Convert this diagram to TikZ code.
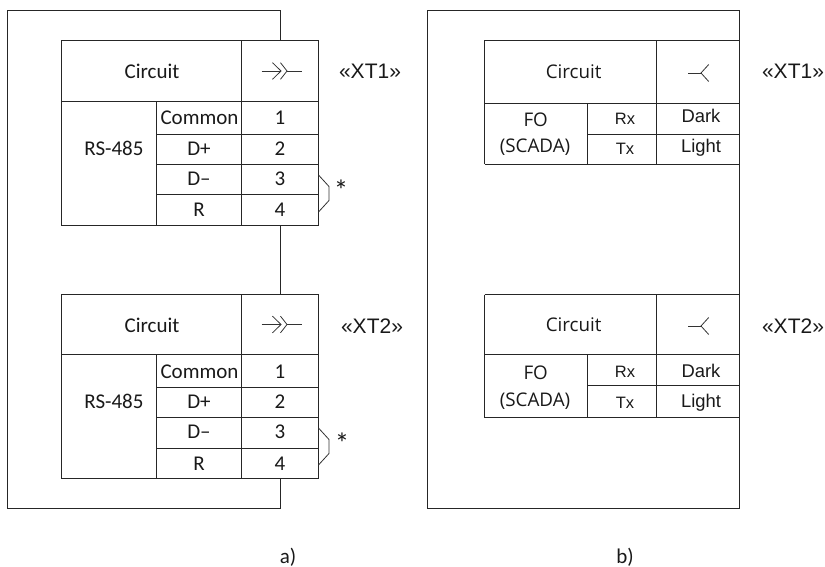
\documentclass[tikz,border=0pt]{standalone}
\usepackage{fontspec}
\setmainfont{Carlito}
\newfontfamily\sega{Open Sans}
\newfontfamily\arl{Liberation Sans}
\tikzset{
  ln/.style={draw=black!85,line width=1pt},
  thin ln/.style={draw=black!80,line width=0.8pt},
  tx/.style={anchor=base,inner sep=0pt,text=black!90,font=\fontsize{21}{22}\selectfont},
  st/.style={anchor=base,inner sep=0pt,text=black!90,font=\fontsize{29}{30}\selectfont},
  sb/.style={anchor=base,inner sep=0pt,text=black!90,font=\sega\fontsize{18.8}{20}\selectfont},
  ar/.style={anchor=base,inner sep=0pt,text=black!90,font=\arl\fontsize{18.4}{20}\selectfont},
  rt/.style={anchor=base,inner sep=0pt,text=black!90,font=\arl\fontsize{16.5}{20}\selectfont},
  lbl/.style={anchor=base,inner sep=0pt,text=black!90,font=\arl\fontsize{21}{24}\selectfont},
  plug/.pic={
    \draw[thin ln] (-19.5,0) -- (0,0);
    \draw[thin ln] (-8.5,8.3) -- (0,0) -- (-8.5,-8.3);
    \draw[thin ln] (-0.5,8.3) -- (6,0) -- (-0.5,-8.3);
    \draw[thin ln] (6,0) -- (20.5,0);
  },
  fork/.pic={
    \draw[thin ln] (-13,0) -- (0,0);
    \draw[thin ln] (7.7,8.5) -- (0,0) -- (7.7,-8.5);
  }
}
\begin{document}
\begin{tikzpicture}[x=1pt,y=-1pt]
\useasboundingbox (0,0) rectangle (825,567);
% --- panel a frame
\draw[ln] (280.5,40.5) -- (280.5,10.5) -- (7.5,10.5) -- (7.5,508.5) -- (280.5,508.5) -- (280.5,478.5);
\draw[ln] (280.5,225.5) -- (280.5,294.5);
% --- panel a tables
\foreach \t/\h/\ra/\rb/\rc/\rd in {40.5/101.5/134.5/164.5/194.5/225.5, 294.5/354.5/387.5/417.5/448.5/478.5}{
  \draw[ln] (61.5,\t) rectangle (318.5,\rd);
  \draw[ln] (241.5,\t) -- (241.5,\rd);
  \draw[ln] (156.5,\h) -- (156.5,\rd);
  \draw[ln] (61.5,\h) -- (318.5,\h);
  \draw[ln] (156.5,\ra) -- (318.5,\ra);
  \draw[ln] (156.5,\rb) -- (318.5,\rb);
  \draw[ln] (156.5,\rc) -- (318.5,\rc);
}
% --- jumpers
\coordinate (j1a) at (318.5,175); \coordinate (j1b) at (318.5,212);
\coordinate (j2a) at (318.5,428); \coordinate (j2b) at (318.5,465);
\draw[thin ln] (j1a) -- ++(10.5,11.5) -- ++(0,14) -- (j1b);
\draw[thin ln] (j2a) -- ++(10.5,11.5) -- ++(0,14) -- (j2b);
\pic at (281,71) {plug};
\pic at (281,324.5) {plug};
% --- panel a text
\node[tx] (ac1) at (152,78.5) {Circuit};
\node[tx] (ars1) at (114,155.5) {RS-485};
\node[tx] (acm1) at (199.5,124.5) {Common};
\node[tx] (adp1) at (199,155.5) {D+};
\node[tx] (adm1) at (199,185.5) {D–};
\node[tx] (ar1) at (199,216.5) {R};
\node[tx] (an11) at (280,124.5) {1};
\node[tx] (an12) at (280,155.5) {2};
\node[tx] (an13) at (280,185.5) {3};
\node[tx] (an14) at (280,216.5) {4};
\node[st] (ast1) at (341,200.5) {*};
\node[lbl] (axt1) at (370,79) {«XT1»};
\node[tx] (ac2) at (152,332) {Circuit};
\node[tx] (ars2) at (114,408.5) {RS-485};
\node[tx] (acm2) at (199.5,378.5) {Common};
\node[tx] (adp2) at (199,408.5) {D+};
\node[tx] (adm2) at (199,438.5) {D–};
\node[tx] (ar2) at (199,470.5) {R};
\node[tx] (an21) at (280,378.5) {1};
\node[tx] (an22) at (280,408.5) {2};
\node[tx] (an23) at (280,438.5) {3};
\node[tx] (an24) at (280,470.5) {4};
\node[st] (ast2) at (342,453.5) {*};
\node[lbl] (axt2) at (372,333) {«XT2»};
\node[tx] (capa) at (288,563) {a)};
% --- panel b
\draw[ln] (427.5,10.5) rectangle (739.5,508.5);
\foreach \t/\h/\m/\e in {40.5/103.5/134.5/164.5, 294.5/354.5/385.5/417.5}{
  \draw[ln] (484.5,\t) -- (739.5,\t);
  \draw[ln] (484.5,\h) -- (739.5,\h);
  \draw[ln] (484.5,\e) -- (739.5,\e);
  \draw[ln] (484.5,\t) -- (484.5,\e);
  \draw[ln] (656.5,\t) -- (656.5,\e);
  \draw[ln] (587.5,\h) -- (587.5,\e);
  \draw[ln] (587.5,\m) -- (739.5,\m);
}
\pic at (701,73) {fork};
\pic at (701,326) {fork};
\node[sb] (bc1) at (573.7,79) {Circuit};
\node[sb] (bfo1) at (535.7,127) {FO};
\node[sb] (bsc1) at (535,153) {(SCADA)};
\node[rt] (brx1) at (625,125) {Rx};
\node[rt] (btx1) at (625,155) {Tx};
\node[ar] (bd1) at (701,123) {Dark};
\node[ar] (bl1) at (701,153) {Light};
\node[lbl] (bxt1) at (793,79) {«XT1»};
\node[sb] (bc2) at (573.7,331) {Circuit};
\node[sb] (bfo2) at (535.7,379) {FO};
\node[sb] (bsc2) at (535,406) {(SCADA)};
\node[rt] (brx2) at (625,377) {Rx};
\node[rt] (btx2) at (625,408) {Tx};
\node[ar] (bd2) at (701,377) {Dark};
\node[ar] (bl2) at (701,407) {Light};
\node[lbl] (bxt2) at (793,333) {«XT2»};
\node[tx] (capb) at (625,563) {b)};
\end{tikzpicture}
\end{document}
